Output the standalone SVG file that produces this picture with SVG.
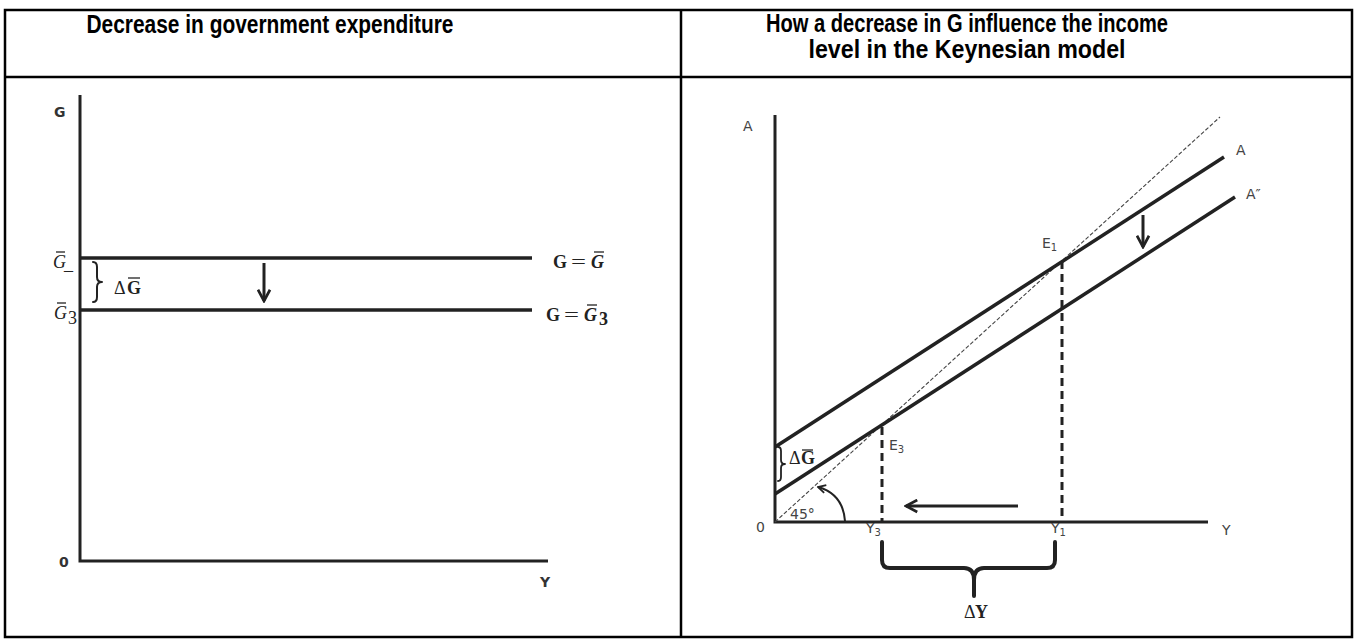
<svg xmlns="http://www.w3.org/2000/svg" width="1359" height="639" viewBox="0 0 1359 639">
<style>
.hdr{font-family:"Liberation Sans",Arial,sans-serif;font-weight:bold;font-size:25px;fill:#000}
.ax{stroke:#222;stroke-width:3;fill:none}
.ln{stroke:#222;stroke-width:3.5;fill:none}
.dash{stroke:#222;stroke-width:3;stroke-dasharray:8 5;fill:none}
.d45{stroke:#444;stroke-width:1.1;stroke-dasharray:4 2;fill:none}
.lbl{font-family:"DejaVu Sans",Verdana,sans-serif;font-size:14px;fill:#444}
.lblb{font-family:"DejaVu Sans",Verdana,sans-serif;font-size:14px;font-weight:bold;fill:#333}
.m{font-family:"Liberation Serif","DejaVu Serif",serif;font-size:18px;fill:#222}
.mb{font-family:"Liberation Serif","DejaVu Serif",serif;font-size:18px;font-weight:bold;fill:#222}
.ol{stroke:#222;stroke-width:1.3}
.brace{stroke:#222;fill:none;stroke-linejoin:round;stroke-linecap:round}
</style>
<defs>
<marker id="ah" viewBox="0 0 10 10" refX="8.5" refY="5" markerWidth="5" markerHeight="5" orient="auto" markerUnits="strokeWidth">
<path d="M1,1 L8.5,5 L1,9" fill="none" stroke="#222" stroke-width="1.8"/>
</marker>
</defs>
<rect width="1359" height="639" fill="#fff"/>
<g id="table" stroke="#000" stroke-width="2.5" fill="none">
<rect x="5" y="10" width="1347" height="627"/>
<line x1="5" y1="77" x2="1352" y2="77"/>
<line x1="681" y1="10" x2="681" y2="637"/>
</g>
<g id="headers">
<text class="hdr" x="270" y="33" text-anchor="middle" textLength="367" lengthAdjust="spacingAndGlyphs">Decrease in government expenditure</text>
<text class="hdr" x="967" y="32" text-anchor="middle" textLength="402" lengthAdjust="spacingAndGlyphs">How a decrease in G influence the income</text>
<text class="hdr" x="967" y="58" text-anchor="middle" textLength="317" lengthAdjust="spacingAndGlyphs">level in the Keynesian model</text>
</g>
<g id="left-graph">
<path class="ax" d="M80,95 V561 H548"/>
<text class="lblb" x="54" y="117">G</text>
<text class="lblb" x="59" y="567">0</text>
<text class="lblb" x="540" y="587">Y</text>
</g>
<g id="connectors">
<line class="ln" x1="80" y1="258" x2="532" y2="258"/>
<line class="ln" x1="80" y1="310" x2="532" y2="310"/>
<line class="ax" x1="264" y1="263" x2="264" y2="301" marker-end="url(#ah)"/>
<path class="ax" d="M775,115 V522 H1208"/>
<line class="d45" x1="775" y1="522" x2="1220" y2="117"/>
<line class="ln" x1="775" y1="447" x2="1224" y2="157"/>
<line class="ln" x1="775" y1="494" x2="1235" y2="197"/>
<line class="dash" x1="1062" y1="261" x2="1062" y2="522"/>
<line class="dash" x1="882" y1="427" x2="882" y2="522"/>
<line class="ax" x1="1143" y1="215" x2="1143" y2="247" marker-end="url(#ah)"/>
<line class="ax" x1="1018" y1="506" x2="906" y2="506" marker-end="url(#ah)"/>
<path d="M845,521 Q843,494 818,487" stroke="#222" stroke-width="2" fill="none" marker-end="url(#ah)"/>
</g>
<g id="left-labels">
<text class="m" font-style="italic" x="53" y="268">G</text>
<line class="ol" x1="56" y1="252" x2="65" y2="252"/>
<text class="m" x="64" y="270">_</text>
<text class="m" font-style="italic" x="54" y="319">G</text>
<line class="ol" x1="57" y1="303" x2="66" y2="303"/>
<text class="m" font-size="13" x="68" y="324">3</text>
<path class="brace" stroke-width="2" d="M93,262 Q97,262 97,267 L97,277 Q97,282 102,282 Q97,282 97,287 L97,297 Q97,302 93,302"/>
<text class="m" x="114" y="294">Δ</text>
<text class="mb" x="127" y="294">G</text>
<line class="ol" x1="128" y1="278" x2="140" y2="278"/>
<text class="mb" x="553" y="268">G</text>
<text class="m" x="571" y="268" textLength="15" lengthAdjust="spacingAndGlyphs">=</text>
<text class="mb" font-style="italic" x="591" y="268">G</text>
<line class="ol" x1="594" y1="252" x2="604" y2="252"/>
<text class="mb" x="546" y="321">G</text>
<text class="m" x="564" y="321" textLength="15" lengthAdjust="spacingAndGlyphs">=</text>
<text class="mb" font-style="italic" x="584" y="321">G</text>
<line class="ol" x1="587" y1="305" x2="597" y2="305"/>
<text class="mb" font-size="14" x="599" y="325">3</text>
</g>
<g id="right-labels">
<text class="lbl" x="743" y="131">A</text>
<text class="lbl" x="756" y="532">0</text>
<text class="lbl" x="1222" y="535">Y</text>
<text class="lbl" x="1236" y="155">A</text>
<text class="lbl" x="1246" y="199">A″</text>
<text class="lbl" x="1042" y="248">E<tspan font-size="10" dy="3">1</tspan></text>
<text class="lbl" x="889" y="450">E<tspan font-size="10" dy="3">3</tspan></text>
<text class="lbl" x="866" y="533">Y<tspan font-size="10" dy="3">3</tspan></text>
<text class="lbl" x="1051" y="533">Y<tspan font-size="10" dy="3">1</tspan></text>
<text class="lbl" x="790" y="519">45°</text>
<path class="brace" stroke-width="1.8" d="M778,447 Q781,447 781,451 L781,460 Q781,464 785,464 Q781,464 781,468 L781,477 Q781,481 778,481"/>
<text class="m" font-size="16" x="789" y="464">Δ</text>
<text class="mb" font-size="16" x="801" y="464">G</text>
<line class="ol" x1="802" y1="450" x2="813" y2="450"/>
<path class="brace" stroke-width="4" d="M882,542 L882,560 Q882,568 890,568 L964,568 Q974,568 974,580 L974,596 M974,580 Q974,568 984,568 L1047,568 Q1055,568 1055,560 L1055,542"/>
<text class="m" font-size="16" x="964" y="618">Δ</text>
<text class="mb" font-size="16" x="975" y="618">Y</text>
</g>
</svg>
